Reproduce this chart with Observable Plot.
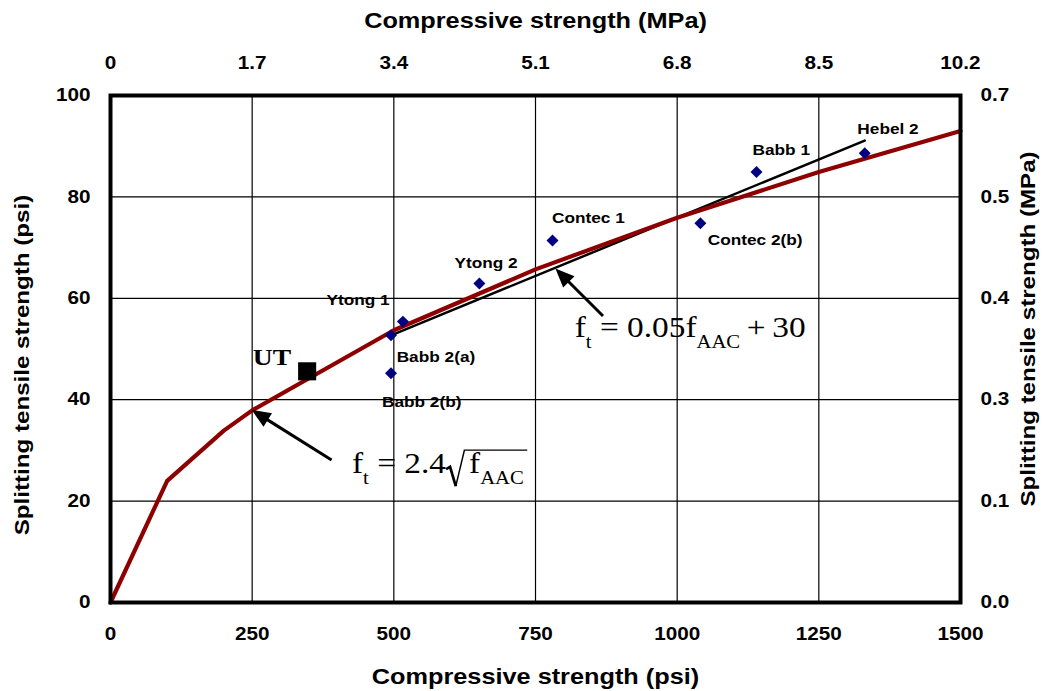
<!DOCTYPE html>
<html><head><meta charset="utf-8">
<script src="https://cdn.jsdelivr.net/npm/d3@7"></script>
<script src="https://cdn.jsdelivr.net/npm/@observablehq/plot@0.6"></script>
<style>
body{margin:0;background:#fff;}
</style></head><body><div id="chart"></div>
<script>
// ---- data ----
const psiTicks = [0, 250, 500, 750, 1000, 1250, 1500];
const mpaTopLabels = ["0", "1.7", "3.4", "5.1", "6.8", "8.5", "10.2"];
const psiYTicks = [0, 20, 40, 60, 80, 100];
const mpaRightLabels = ["0.0", "0.1", "0.3", "0.4", "0.5", "0.7"];

const curveX = [0, 100, 200, 250, 500, 750, 1000, 1250, 1500];
const curveY = [0, 24, 33.9, 37.9, 53.7, 65.7, 75.9, 84.9, 93.0];

const fitX = [495, 1331];
const fitY = [52.7, 91.1];

const pointNames = ["Ytong 1", "Babb 2(a)", "Babb 2(b)", "Ytong 2", "Contec 1", "Contec 2(b)", "Babb 1", "Hebel 2"];
const pointX = [516, 495, 495, 651, 780, 1041, 1140, 1331];
const pointY = [55.4, 52.7, 45.2, 62.9, 71.4, 74.8, 84.9, 88.6];
const labelX = [381, 505, 479, 607, 779, 1054, 1133, 1318];
const labelY = [59.6, 48.4, 39.5, 66.9, 75.9, 71.4, 89.3, 93.4];

const utName = ["UT"];
const utX = [347];
const utY = [45.6];
const utLabelX = [285];
const utLabelY = [48.4];

const arrowFromX = [391, 870];
const arrowFromY = [28, 56.4];
const arrowToX = [250, 786];
const arrowToY = [37.9, 65.8];

const eqX = [427, 820];
const eqY = [25.4, 52.3];

const titleBottom = ["Compressive strength (psi)"];
const titleTop = ["Compressive strength (MPa)"];
const titleLeft = ["Splitting tensile strength (psi)"];
const titleRight = ["Splitting tensile strength (MPa)"];

// ---- tables ----
const curve = curveX.map((x, i) => ({x, y: curveY[i]}));
const fit = fitX.map((x, i) => ({x, y: fitY[i]}));
const points = pointNames.map((n, i) => ({n, x: pointX[i], y: pointY[i], lx: labelX[i], ly: labelY[i]}));
const ut = utName.map((n, i) => ({n, x: utX[i], y: utY[i], lx: utLabelX[i], ly: utLabelY[i]}));

const SANS = "Liberation Sans, Arial, Helvetica, sans-serif";
const SERIF = "Liberation Serif, Times New Roman, serif";
const tickStyle = {tickSize: 0, fontSize: 18, fontWeight: "bold", fontFamily: SANS, label: null};
const titleStyle = {text: d => d, fontSize: 22, fontWeight: "bold", fontFamily: SANS, textAnchor: "middle", lineAnchor: "middle"};

const plot = Plot.plot({
  width: 1049, height: 691,
  marginLeft: 110, marginRight: 89, marginTop: 95, marginBottom: 89,
  x: {domain: [0, 1500]},
  y: {domain: [0, 100]},
  style: {background: "white", color: "black", fontFamily: SANS},
  marks: [
    Plot.gridX({ticks: psiTicks.slice(1, -1), stroke: "black", strokeOpacity: 1, strokeWidth: 1.2}),
    Plot.gridY({ticks: psiYTicks.slice(1, -1), stroke: "black", strokeOpacity: 1, strokeWidth: 1.2}),
    Plot.axisX({...tickStyle, ticks: psiTicks, anchor: "bottom", tickPadding: 25, tickFormat: d => String(d)}),
    Plot.axisX({...tickStyle, ticks: psiTicks, anchor: "top", tickPadding: 27,
      tickFormat: d => mpaTopLabels[psiTicks.indexOf(d)]}),
    Plot.axisY({...tickStyle, ticks: psiYTicks, anchor: "left", tickPadding: 20, tickFormat: d => String(d)}),
    Plot.axisY({...tickStyle, ticks: psiYTicks, anchor: "right", tickPadding: 20,
      tickFormat: d => mpaRightLabels[psiYTicks.indexOf(d)]}),
    Plot.line(fit, {x: "x", y: "y", stroke: "black", strokeWidth: 2.5}),
    Plot.line(curve, {x: "x", y: "y", stroke: "#8e0000", strokeWidth: 4.2, strokeLinejoin: "round"}),
    Plot.dot(points, {x: "x", y: "y", symbol: "diamond2", r: 5.4, fill: "#000080", stroke: "none"}),
    Plot.dot(ut, {x: "x", y: "y", symbol: "square", r: 10.2, fill: "black", stroke: "none"}),
    Plot.text(points, {x: "lx", y: "ly", text: "n", textAnchor: "start", fontSize: 15, fontWeight: "bold", fontFamily: SANS}),
    Plot.text(ut, {x: "lx", y: "ly", text: "n", fontSize: 24, fontWeight: "bold", fontFamily: SERIF}),
    Plot.frame({stroke: "black", strokeWidth: 4}),
    Plot.text(titleBottom, {...titleStyle, frameAnchor: "bottom", dy: 74}),
    Plot.text(titleTop, {...titleStyle, frameAnchor: "top", dy: -75}),
    Plot.text(titleLeft, {...titleStyle, fontSize: 21, frameAnchor: "left", dx: -88, dy: 16, rotate: -90}),
    Plot.text(titleRight, {...titleStyle, fontSize: 21, frameAnchor: "right", dx: 68, dy: -20, rotate: -90})
  ]
});

document.getElementById("chart").appendChild(plot);

// horizontally widen all glyphs as in the reference
plot.querySelectorAll("text").forEach(t => {
  const tr = t.getAttribute("transform");
  if (tr) t.setAttribute("transform", tr + " scale(1.15,1)");
});

const xs = plot.scale("x"), ys = plot.scale("y");
const sx = v => xs.apply(v), sy = v => ys.apply(v);
const svg = d3.select(plot);

// arrows with filled heads
const ag = svg.append("g");
arrowFromX.forEach((_, i) => {
  const x1 = sx(arrowFromX[i]), y1 = sy(arrowFromY[i]);
  const x2 = sx(arrowToX[i]), y2 = sy(arrowToY[i]);
  const a = Math.atan2(y2 - y1, x2 - x1), L = 19, W = 8;
  const bx = x2 - L * Math.cos(a), by = y2 - L * Math.sin(a);
  ag.append("line").attr("x1", x1).attr("y1", y1).attr("x2", bx + 3 * Math.cos(a)).attr("y2", by + 3 * Math.sin(a))
    .attr("stroke", "black").attr("stroke-width", 3);
  ag.append("path").attr("d", `M${x2},${y2}L${bx + W * Math.sin(a)},${by - W * Math.cos(a)}L${bx - W * Math.sin(a)},${by + W * Math.cos(a)}Z`)
    .attr("fill", "black");
});

// equations
const equations = [
  [{t: "f"}, {t: "t", sub: true}, {t: " = 2.4"}, {t: "f", rad: true}, {t: "AAC", sub: true, radEnd: true}],
  [{t: "f"}, {t: "t", sub: true}, {t: " = 0.05"}, {t: "f"}, {t: "AAC", sub: true}, {t: "\u2009+\u200930"}]
];
equations.forEach((parts, i) => {
  const g = svg.append("g").attr("transform", `translate(${sx(eqX[i])},${sy(eqY[i])}) scale(1.15,1)`);
  const t = g.append("text").attr("font-family", SERIF).attr("font-size", 29)
    .attr("text-anchor", "start").attr("fill", "black").style("white-space", "pre");
  let inSub = false, idx = 0, radStart = null, radEnd = null;
  parts.forEach(p => {
    const ts = t.append("tspan").text(p.t);
    if (p.sub && !inSub) { ts.attr("dy", 11); inSub = true; }
    if (!p.sub && inSub) { ts.attr("dy", -11); inSub = false; }
    if (p.sub) ts.attr("font-size", 18);
    if (p.rad) { ts.attr("dx", 20); radStart = idx; }
    idx += p.t.length;
    if (p.radEnd) radEnd = idx - 1;
  });
  if (radStart !== null) {
    const node = t.node();
    const xs0 = node.getStartPositionOfChar(radStart).x;
    const xe = node.getEndPositionOfChar(radEnd).x;
    const x0 = xs0 - 20;
    g.append("path").attr("d", `M${x0},-4L${x0 + 3.5},-6.5L${x0 + 8.5},13`)
      .attr("fill", "none").attr("stroke", "black").attr("stroke-width", 2.4).attr("stroke-linejoin", "miter");
    g.append("path").attr("d", `M${x0 + 8.5},13L${x0 + 16},-23L${xe + 3},-23`)
      .attr("fill", "none").attr("stroke", "black").attr("stroke-width", 1.3);
  }
});
</script></body></html>
